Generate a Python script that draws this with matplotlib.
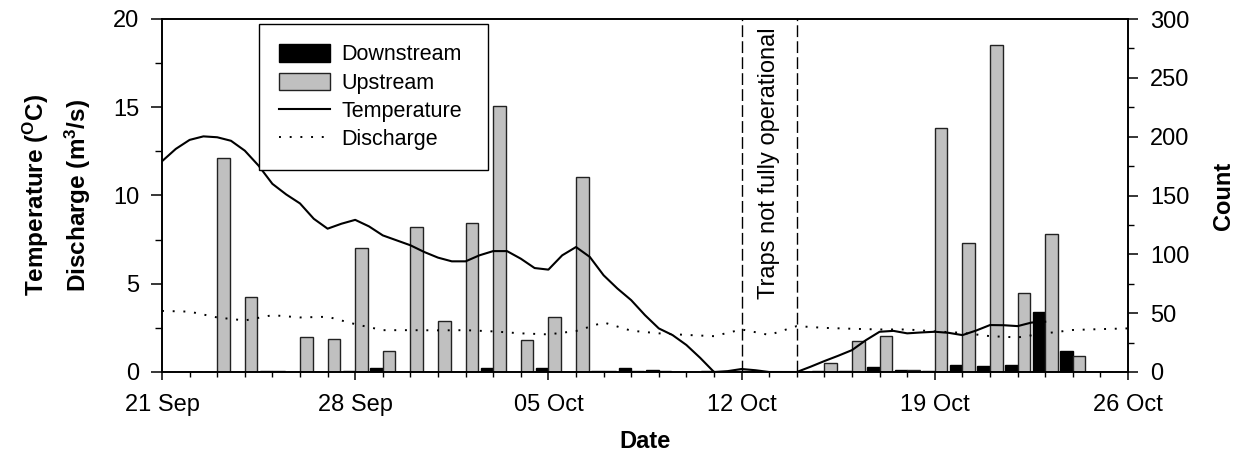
import numpy as np
import pandas as pd
import matplotlib
matplotlib.use("Agg")
import matplotlib.pyplot as plt
import matplotlib.dates as mdates
from matplotlib.patches import Patch
from matplotlib.lines import Line2D
from matplotlib.ticker import MultipleLocator

plt.rcParams['font.family'] = ['Liberation Sans', 'DejaVu Sans']
plt.rcParams['mathtext.fontset'] = 'custom'
plt.rcParams['mathtext.rm'] = 'Liberation Sans'
plt.rcParams['mathtext.bf'] = 'Liberation Sans:bold'

# ---------------- data ----------------
start_date = "2008-09-21"
n_days = 36
downstream = [0, 0, 0, 0, 1, 0, 0, 1, 3, 0, 0, 0, 3, 0, 3, 0, 1, 3, 2, 0,
              1, 1, 0, 0, 1, 1, 4, 2, 1, 6, 5, 6, 51, 18, 0, 0]
upstream = [0, 0, 182, 64, 1, 30, 28, 105, 18, 123, 43, 127, 226, 27, 47, 166, 1, 1, 1, 0,
            0, 1, 0, 0, 8, 26, 31, 2, 207, 110, 278, 67, 117, 14, 0, 0]

temp_day = [0, 0.5, 1, 1.5, 2, 2.5, 3, 3.5, 4, 4.5, 5, 5.5, 6, 6.5, 7, 7.5, 8, 8.5, 9, 9.5,
            10, 10.5, 11, 11.5, 12, 12.5, 13, 13.5, 14, 14.5, 15, 15.5, 16, 16.5, 17, 17.5,
            18, 18.5, 19, 19.5, 20, 20.5, 21, 21.5, 22, 22.5, 23, 23.5, 24, 24.5, 25, 25.5,
            26, 26.5, 27, 27.5, 28, 28.5, 29, 29.5, 30, 30.5, 31, 31.5, 32]
temp_val = [11.94, 12.64, 13.15, 13.35, 13.3, 13.1, 12.54, 11.69, 10.66, 10.06, 9.55, 8.68,
            8.12, 8.4, 8.62, 8.25, 7.74, 7.46, 7.18, 6.8, 6.48, 6.27, 6.27, 6.61, 6.85, 6.85,
            6.42, 5.89, 5.8, 6.61, 7.08, 6.52, 5.48, 4.73, 4.07, 3.22, 2.47, 2.09, 1.53, 0.8,
            0.0, 0.05, 0.17, 0.1, 0.0, 0.0, 0.0, 0.3, 0.62, 0.92, 1.24, 1.8, 2.28, 2.33, 2.19,
            2.24, 2.28, 2.22, 2.09, 2.35, 2.66, 2.65, 2.6, 2.8, 2.85]

dis_day = list(range(36))
dis_val = [3.46, 3.42, 3.09, 2.92, 3.22, 3.09, 3.13, 2.71, 2.37, 2.37, 2.36, 2.37, 2.3, 2.19,
           2.13, 2.32, 2.81, 2.34, 2.19, 2.1, 2.03, 2.41, 2.1, 2.6, 2.5, 2.45, 2.41, 2.41,
           2.3, 2.22, 2.03, 1.96, 2.19, 2.38, 2.43, 2.47]

tick_dates = ["2008-09-21", "2008-09-28", "2008-10-05", "2008-10-12", "2008-10-19", "2008-10-26"]
tick_labels = ["21 Sep", "28 Sep", "05 Oct", "12 Oct", "19 Oct", "26 Oct"]
trap_lines = ["2008-10-12", "2008-10-14"]
trap_text_date = "2008-10-13"

# ---------------- figure ----------------
fig = plt.figure(figsize=(12.42, 4.67), dpi=100)
ax = fig.add_axes([162/1242, 1-372/467, (1128-162)/1242, (372-19)/467])
ax2 = ax.twinx()
ax.set_zorder(ax2.get_zorder() + 1)
ax.patch.set_visible(False)

t0 = mdates.date2num(pd.Timestamp(start_date))
days = t0 + np.arange(n_days)
w = 0.46
ax2.bar(days, downstream, width=-w, align='edge', color='black', edgecolor='black', linewidth=1.0)
ax2.bar(days, upstream, width=w, align='edge', color='#c0c0c0', edgecolor='#222222', linewidth=1.0)

ax.plot(t0 + np.array(temp_day), temp_val, color='black', lw=1.5, solid_joinstyle='round')
ax.plot(t0 + np.array(dis_day), dis_val, color='black', lw=1.4, linestyle=(0, (1, 4.5)))

for d in trap_lines:
    ax.axvline(mdates.date2num(pd.Timestamp(d)), color='black', lw=1.0, dashes=(8.5, 3))
ax.text(mdates.date2num(pd.Timestamp(trap_text_date)), 11.85, "Traps not fully operational",
        rotation=90, ha='center', va='center', fontsize=17)

ax.set_xlim(t0, t0 + 35)
ax.set_ylim(0, 20)
ax2.set_ylim(0, 300)
ax.set_xticks([mdates.date2num(pd.Timestamp(d)) for d in tick_dates])
ax.set_xticklabels(tick_labels)
ax.xaxis.set_minor_locator(MultipleLocator(1))
ax.yaxis.set_major_locator(MultipleLocator(5))
ax.yaxis.set_minor_locator(MultipleLocator(2.5))
ax2.yaxis.set_major_locator(MultipleLocator(50))
ax2.yaxis.set_minor_locator(MultipleLocator(25))

for a in (ax, ax2):
    for s in a.spines.values():
        s.set_linewidth(1.2)
ax.tick_params(axis='both', which='major', direction='out', width=1.1, labelsize=17)
ax.tick_params(axis='both', which='minor', direction='out', width=1.0)
ax.tick_params(axis='x', which='major', length=6, pad=10)
ax.tick_params(axis='x', which='minor', length=3.6)
ax.tick_params(axis='y', which='major', length=8, pad=8.5)
ax.tick_params(axis='y', which='minor', length=5)
ax2.tick_params(axis='y', which='major', direction='out', length=7.5, width=1.1, labelsize=17, pad=8.5)
ax2.tick_params(axis='y', which='minor', direction='out', length=4.5, width=1.0)

ax.set_xlabel("Date", fontsize=17, fontweight='bold', labelpad=10)
ax2.set_ylabel("Count", fontsize=17, fontweight='bold', labelpad=16)

fig.text(36/1242, 1-195/467, r"Temperature ($\mathbf{^{O}}$C)", rotation=90, ha='center', va='center',
         fontsize=17.5, fontweight='bold')
fig.text(78/1242, 1-195/467, r"Discharge (m$\mathbf{^{3}}$/s)", rotation=90, ha='center', va='center',
         fontsize=17.5, fontweight='bold')

handles = [Patch(facecolor='black', edgecolor='black'),
           Patch(facecolor='#c0c0c0', edgecolor='#222222'),
           Line2D([], [], color='black', lw=1.5),
           Line2D([], [], color='black', lw=1.4, linestyle=(0, (1, 4.5)))]
labels = ["Downstream", "Upstream", "Temperature", "Discharge"]
leg = ax.legend(handles, labels, loc='upper left',
                bbox_to_anchor=(259/1242, 1-167/467, (488-259)/1242, (167-24)/467),
                bbox_transform=fig.transFigure, mode='expand', fontsize=15.5, frameon=True,
                fancybox=False, edgecolor='black', framealpha=1, borderaxespad=0, borderpad=0.95,
                handlelength=2.33, handleheight=0.84, handletextpad=0.56, labelspacing=0.33)
leg.get_frame().set_linewidth(1.0)

fig.savefig("out.png", dpi=100)
